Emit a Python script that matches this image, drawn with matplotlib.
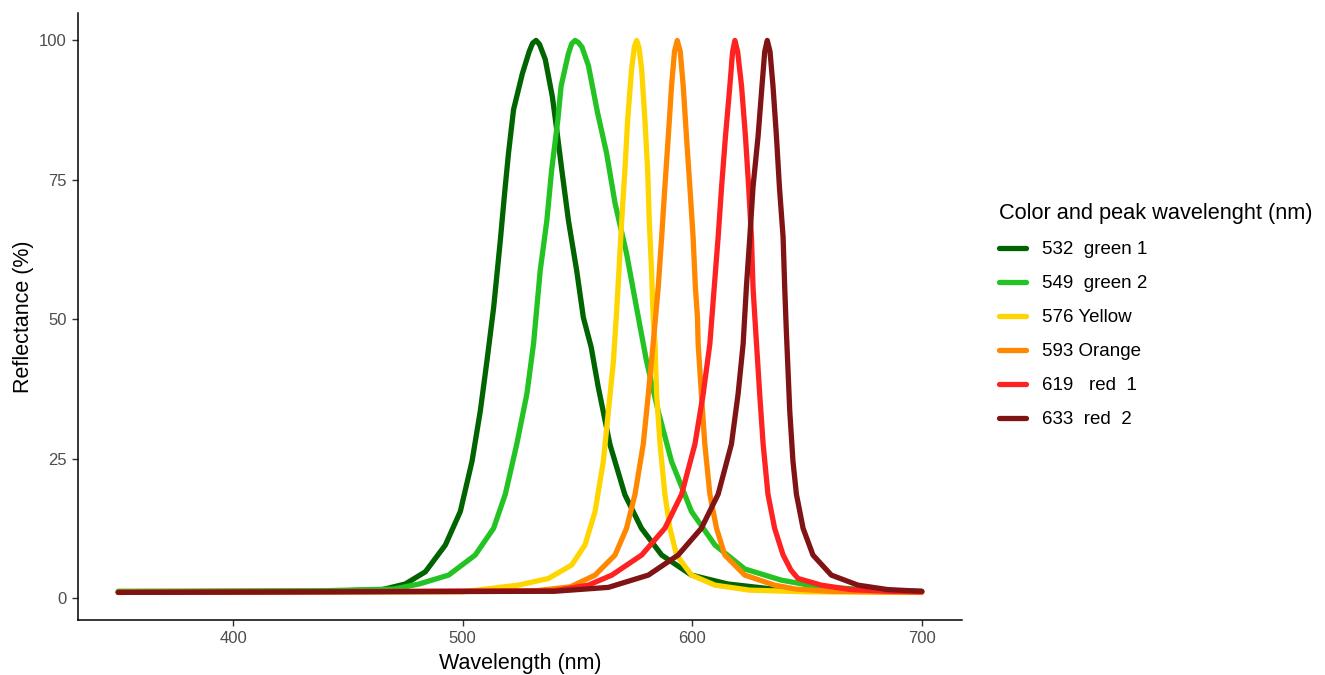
import matplotlib.pyplot as plt

plt.rcParams['font.family'] = ['Liberation Sans', 'DejaVu Sans']

# series (wavelength nm, reflectance %)
wl_green1 = [350, 440, 465, 475, 483.8, 492.5, 499, 504.1, 507.7, 510.6, 513.5, 516.4, 518.3, 520,
             522.2, 526, 529, 530.5, 532, 533.5, 536, 539.1, 541, 543.2, 546.1, 549.7, 552.6, 556,
             559, 564.2, 570.7, 577.9, 586.7, 599.7, 615.6, 635, 660, 700]
r_green1 = [1.1, 1.2, 1.5, 2.5, 4.7, 9.5, 15.5, 24.5, 33.5, 42.5, 52, 64, 72.6, 79.8,
            87.6, 94, 98, 99.5, 100, 99.3, 96.6, 89.9, 84, 76.8, 67.7, 58.7, 50.3, 45,
            38, 27.5, 18.5, 12.5, 7.7, 4.1, 2.5, 1.6, 1.3, 1.1]

wl_green2 = [350, 440, 470, 481, 493.9, 505.5, 513.5, 518.6, 523.6, 528, 530.9, 533.8, 536.7, 538.8,
             541.5, 542.9, 546, 547.5, 549, 550.5, 552, 554.8, 558.8, 562.7, 566.4, 571.4, 575.8,
             580.1, 585.2, 591, 599.7, 609.9, 622.9, 638.8, 655, 680, 700]
r_green2 = [1.2, 1.3, 1.6, 2.5, 4.1, 7.7, 12.5, 18.6, 27.6, 36.6, 45.6, 58.7, 67.7, 76.8,
            85.8, 91.8, 97.5, 99.4, 100, 99.6, 98.8, 95.5, 87, 79.8, 70.8, 61.8, 52,
            42.5, 33.5, 24.5, 15.5, 9.5, 5.2, 3.2, 2.0, 1.4, 1.2]

wl_yellow = [350, 500, 524.3, 537.4, 547.5, 553.3, 557.7, 561.3, 563.5, 565.7, 567.1, 568.1, 569.3,
             570.7, 571.9, 573.6, 574.8, 575.8, 576.8, 578, 579.4, 580.6, 581.3, 582.3, 583, 583.8,
             584.5, 586, 588.1, 590.3, 593.2, 599.7, 609.9, 625, 650, 700]
r_yellow = [1.0, 1.1, 2.3, 3.5, 5.9, 9.5, 15.5, 24.5, 33.5, 42.5, 51.5, 58.7, 67.7,
            76.8, 85.8, 94.8, 98.8, 100, 98.8, 94.8, 85.8, 76.8, 67.7, 58.7, 50.3, 45.6,
            36.6, 27.6, 18.6, 12.5, 7.7, 4.1, 2.3, 1.4, 1.1, 1.0]

wl_orange = [350, 530, 547, 557.7, 566.4, 571.4, 575.1, 578.7, 580.9, 583, 585.2, 586.7, 588.1,
             589.6, 591, 592.3, 593.5, 594.8, 596.1, 597.5, 599, 600.4, 601.4, 602.3, 602.6, 604,
             605.5, 607.7, 610.6, 614.2, 622.9, 635.9, 645, 660, 700]
r_orange = [1.0, 1.2, 2.0, 4.1, 7.7, 12.5, 18.6, 27.6, 36.6, 45.6, 55.7, 64.7, 73.7,
            82.8, 91.8, 98, 100, 98, 91.8, 82.8, 73.7, 64.7, 55.7, 50.3, 45.6, 36.6,
            27.6, 18.6, 12.5, 7.7, 4.1, 2.3, 1.6, 1.2, 1.0]

wl_red1 = [350, 540, 554.8, 565, 578, 588.1, 595.4, 601.2, 604.8, 607.7, 609.6, 611.3, 612.8,
           614.5, 616.4, 617.6, 618.6, 619.8, 621.5, 623.2, 624.6, 625.8, 626.5, 627.3, 629.4,
           630.9, 633, 635.9, 639.6, 643, 646.1, 656.2, 669, 685, 700]
r_red1 = [1.0, 1.3, 2.3, 4.1, 7.7, 12.5, 18.6, 27.6, 36.6, 45.6, 55.7, 64.7, 73.7,
          82.8, 91.8, 98, 100, 98, 91.8, 82.8, 73.7, 64.7, 55.7, 50.3, 36.6,
          27.6, 18.6, 12.5, 7.7, 5.0, 3.5, 2.3, 1.5, 1.2, 1.1]

wl_red2 = [350, 540, 563.5, 580.9, 593.9, 604, 611.3, 617.1, 620, 622.2, 623.6, 625.1, 626.5,
           628.7, 630.4, 631.6, 632.7, 633.9, 635.2, 636.7, 638, 639.6, 640.3, 641, 642.5, 643.9,
           645.4, 648.3, 652.6, 660.6, 672.2, 685.2, 700]
r_red2 = [1.0, 1.2, 1.9, 4.1, 7.7, 12.5, 18.6, 27.6, 36.6, 45.6, 55.7, 64.7, 73.7,
          82.8, 91.8, 98, 100, 98, 91.8, 82.8, 73.7, 64.7, 55.7, 48, 33.5, 24.5,
          18.6, 12.5, 7.7, 4.1, 2.3, 1.5, 1.2]

labels = ['532  green 1', '549  green 2', '576 Yellow', '593 Orange', '619   red  1', '633  red  2']
colors = ['#006400', '#22C322', '#FFD500', '#FF8800', '#FF2222', '#801414']

series = [(wl_green1, r_green1), (wl_green2, r_green2), (wl_yellow, r_yellow),
          (wl_orange, r_orange), (wl_red1, r_red1), (wl_red2, r_red2)]

fig = plt.figure(figsize=(13.25, 6.75), dpi=100)
ax = fig.add_axes([0.0589, 0.0815, 0.6671, 0.8995])

for (x, y), lab, col in zip(series, labels, colors):
    ax.plot(x, y, color=col, lw=3.8, label=lab, solid_joinstyle='round', solid_capstyle='round')

ax.set_xlim(332.5, 717.5)
ax.set_ylim(-3.95, 104.95)
ax.set_xticks([400, 500, 600, 700])
ax.set_yticks([0, 25, 50, 75, 100])

for s in ['top', 'right']:
    ax.spines[s].set_visible(False)
for s in ['left', 'bottom']:
    ax.spines[s].set_linewidth(1.1)
    ax.spines[s].set_color('black')

ax.tick_params(axis='both', length=4, width=1.0, color='#333333',
               labelsize=12, labelcolor='#4D4D4D', pad=4)

ax.set_xlabel('Wavelength (nm)', fontsize=15.5, labelpad=5)
ax.set_ylabel('Reflectance (%)', fontsize=15.5, labelpad=4)

leg = fig.legend(loc='upper left', bbox_to_anchor=(0.741, 0.724), frameon=False,
                 title='Color and peak wavelenght (nm)', title_fontsize=15.7, fontsize=13.5,
                 handlelength=1.45, handletextpad=0.85, labelspacing=0.9,
                 alignment='left')

plt.savefig('out.png', dpi=100)
